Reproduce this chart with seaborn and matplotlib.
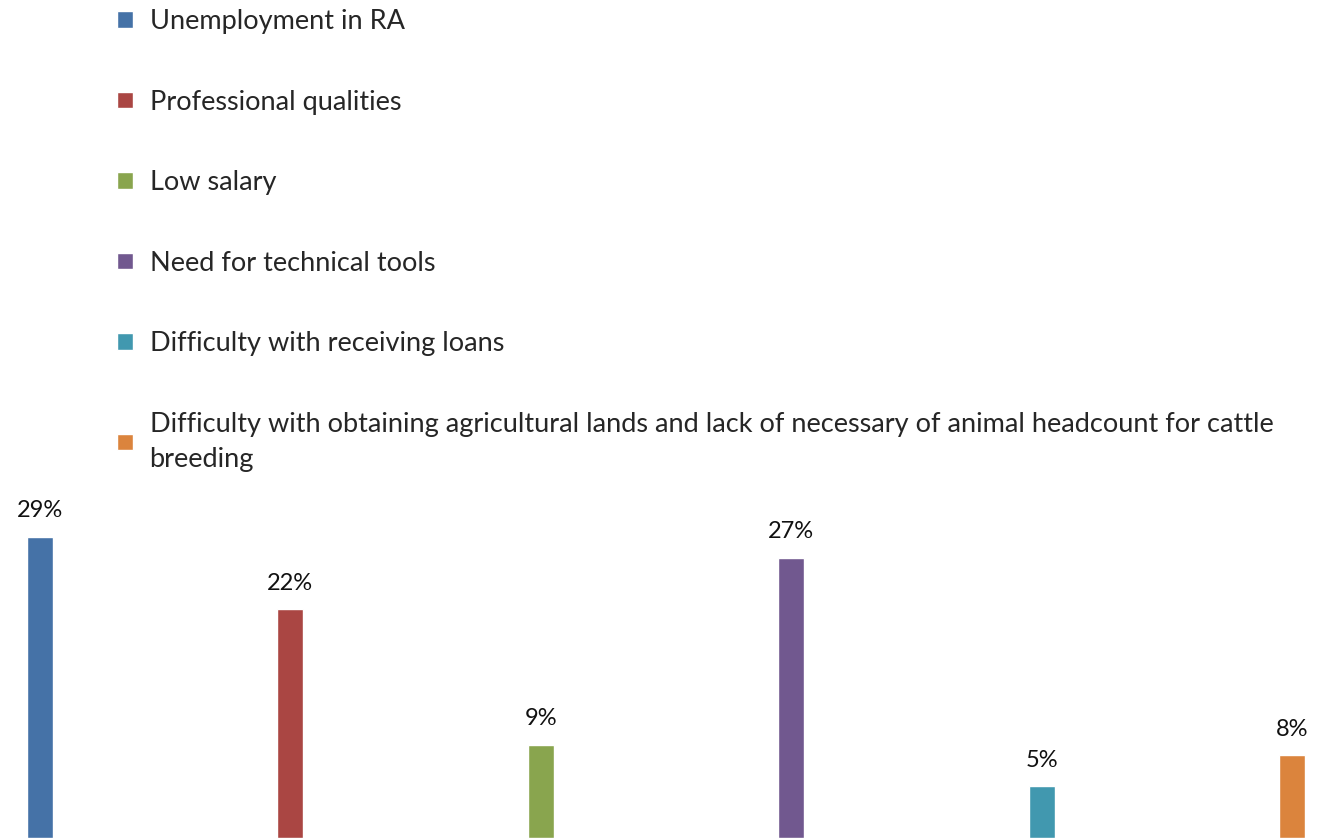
import matplotlib
matplotlib.use("Agg")
import matplotlib.pyplot as plt
import seaborn as sns
import pandas as pd

# data
categories = [
    "Unemployment in RA",
    "Professional qualities",
    "Low salary",
    "Need for technical tools",
    "Difficulty with receiving loans",
    "Difficulty with obtaining agricultural lands and lack of necessary of animal headcount for cattle\nbreeding",
]
values = [29, 22, 9, 27, 5, 8]
colors = ["#4572A7", "#AA4643", "#89A54E", "#71588F", "#4198AF", "#DB843D"]

sns.set_theme(style="white")
plt.rcParams["font.family"] = ["Lato", "DejaVu Sans"]

df = pd.DataFrame({"cause": categories, "share": values})

fig = plt.figure(figsize=(13.29, 8.38), dpi=100)
ax = fig.add_axes([0, 0, 1, 348 / 838])

sns.barplot(data=df, x="cause", y="share", hue="cause", palette=colors,
            width=0.104, legend=True, ax=ax, saturation=1)

ax.set_xlim(-0.16, 5.148)
ax.set_ylim(0, 33.5)
ax.set_axis_off()

# value labels above bars
for i, v in enumerate(values):
    ax.annotate(f"{v}%", (i, v), xytext=(0, 11), textcoords="offset points",
                ha="center", va="bottom", fontsize=17, color="#111111")

# legend at the top, stacked
handles, labels = ax.get_legend_handles_labels()
ax.get_legend().remove()
leg = fig.legend(handles, labels, loc="upper left",
                 bbox_to_anchor=(117 / 1329, 1 - 9 / 838),
                 frameon=False, fontsize=19.5, handlelength=0.58, handleheight=0.58,
                 handletextpad=0.62, labelspacing=2.05, borderpad=0, borderaxespad=0)
for t in leg.get_texts():
    t.set_linespacing(1.5)

fig.savefig("out.png", dpi=100)
